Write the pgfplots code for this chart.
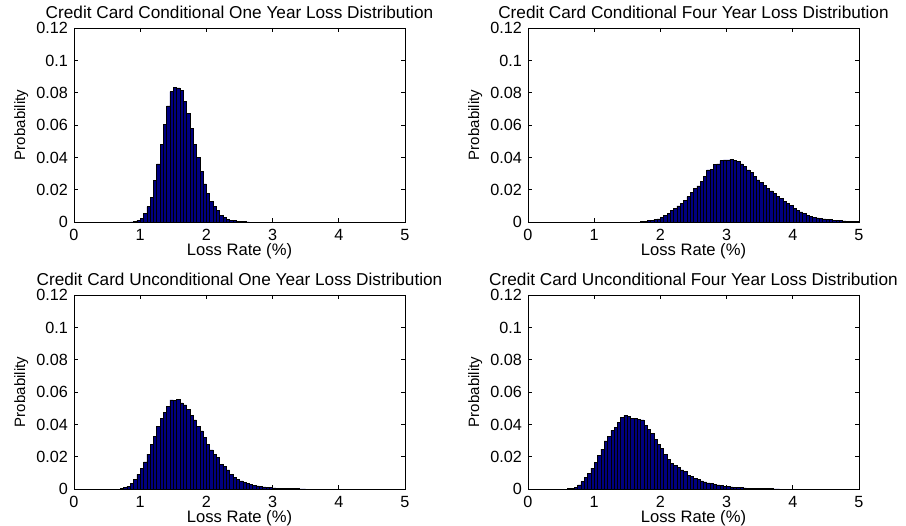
\documentclass[border=0pt]{standalone}
\usepackage{pgfplots}
\pgfplotsset{compat=1.18}
\usepackage{fontspec}
\setmainfont{Liberation Sans}
\definecolor{matnavy}{RGB}{0,0,128}
\pgfplotsset{
  histax/.style={
    scale only axis, width=331pt, height=194pt,
    xmin=0, xmax=5, ymin=0, ymax=0.12,
    xtick={0,1,2,3,4,5}, xticklabels={0,1,2,3,4,5},
    ytick={0,0.02,0.04,0.06,0.08,0.1,0.12},
    yticklabels={0,0.02,0.04,0.06,0.08,0.1,0.12},
    tick align=inside, major tick length=4pt,
    axis line style={line width=0.8pt, black},
    tick style={line width=0.8pt, black},
    tick label style={font=\fontsize{16.2}{19}\selectfont},
    xticklabel style={anchor=north, inner sep=0pt, yshift=-7pt},
    yticklabel style={anchor=east, inner sep=0pt, xshift=-6pt, text height=11.6pt, text depth=0pt},
    title style={at={(axis description cs:0.5,1.016)}, anchor=base, inner sep=0pt, text depth=0pt, font=\fontsize{17.2}{20}\selectfont},
    xlabel style={at={(axis description cs:0.5,-0.172)}, anchor=base, inner sep=0pt, text height=11pt, text depth=3pt, font=\fontsize{16.6}{20}\selectfont},
    ylabel style={at={(axis description cs:-0.148,0.5)}, anchor=base, inner sep=0pt, font=\fontsize{15}{18}\selectfont},
    xlabel={Loss Rate (\%)}, ylabel={Probability},
  },
  histbar/.style={ybar interval, fill=matnavy, draw=black, line width=0.5pt},
}
\begin{document}
\begin{tikzpicture}
\useasboundingbox (0,0) rectangle (906pt,526pt);
% Top left
\begin{axis}[histax, at={(74pt,304pt)}, anchor=south west,
  title={Credit Card Conditional One Year Loss Distribution}]
\addplot[histbar] table {
x y
0.85 0.0001
0.90 0.0004
0.95 0.0010
1.00 0.0023
1.05 0.0054
1.10 0.0095
1.15 0.0153
1.20 0.0256
1.25 0.0359
1.30 0.0480
1.35 0.0606
1.40 0.0718
1.45 0.0806
1.50 0.0833
1.55 0.0830
1.60 0.0812
1.65 0.0744
1.70 0.0672
1.75 0.0580
1.80 0.0480
1.85 0.0400
1.90 0.0311
1.95 0.0235
2.00 0.0177
2.05 0.0126
2.10 0.0095
2.15 0.0070
2.20 0.0043
2.25 0.0030
2.30 0.0018
2.35 0.0012
2.40 0.0008
2.45 0.0005
2.50 0.0003
2.55 0.0002
2.60 0.0001
2.65 0.0001
};
\end{axis}
% Top right
\begin{axis}[histax, at={(528pt,304pt)}, anchor=south west,
  title={Credit Card Conditional Four Year Loss Distribution}]
\addplot[histbar] table {
x y
1.70 0.0003
1.75 0.0006
1.80 0.0009
1.85 0.0012
1.90 0.0016
1.95 0.0020
2.00 0.0029
2.05 0.0041
2.10 0.0054
2.15 0.0070
2.20 0.0085
2.25 0.0099
2.30 0.0115
2.35 0.0136
2.40 0.0157
2.45 0.0181
2.50 0.0208
2.55 0.0223
2.60 0.0249
2.65 0.0280
2.70 0.0322
2.75 0.0326
2.80 0.0357
2.85 0.0359
2.90 0.0380
2.95 0.0384
3.00 0.0384
3.05 0.0388
3.10 0.0380
3.15 0.0375
3.20 0.0359
3.25 0.0342
3.30 0.0322
3.35 0.0305
3.40 0.0280
3.45 0.0260
3.50 0.0243
3.55 0.0227
3.60 0.0208
3.65 0.0192
3.70 0.0177
3.75 0.0157
3.80 0.0144
3.85 0.0128
3.90 0.0115
3.95 0.0103
4.00 0.0083
4.05 0.0074
4.10 0.0062
4.15 0.0052
4.20 0.0043
4.25 0.0037
4.30 0.0029
4.35 0.0025
4.40 0.0022
4.45 0.0020
4.50 0.0017
4.55 0.0015
4.60 0.0012
4.65 0.0010
4.70 0.0008
4.75 0.0007
4.80 0.0005
4.85 0.0004
4.90 0.0003
4.95 0.0002
5.00 0.0002
};
\end{axis}
% Bottom left
\begin{axis}[histax, at={(74pt,37pt)}, anchor=south west,
  title={Credit Card Unconditional One Year Loss Distribution}]
\addplot[histbar] table {
x y
0.70 0.0003
0.75 0.0008
0.80 0.0018
0.85 0.0035
0.90 0.0060
0.95 0.0090
1.00 0.0127
1.05 0.0168
1.10 0.0215
1.15 0.0277
1.20 0.0324
1.25 0.0386
1.30 0.0435
1.35 0.0472
1.40 0.0509
1.45 0.0552
1.50 0.0548
1.55 0.0556
1.60 0.0533
1.65 0.0521
1.70 0.0492
1.75 0.0455
1.80 0.0427
1.85 0.0386
1.90 0.0359
1.95 0.0320
2.00 0.0277
2.05 0.0242
2.10 0.0215
2.15 0.0195
2.20 0.0154
2.25 0.0140
2.30 0.0119
2.35 0.0092
2.40 0.0072
2.45 0.0060
2.50 0.0050
2.55 0.0042
2.60 0.0035
2.65 0.0029
2.70 0.0024
2.75 0.0020
2.80 0.0016
2.85 0.0013
2.90 0.0011
2.95 0.0009
3.00 0.0007
3.05 0.0006
3.10 0.0005
3.15 0.0004
3.20 0.0003
3.25 0.0003
3.30 0.0002
3.35 0.0002
3.40 0.0001
3.45 0.0001
3.50 0.0001
};
\end{axis}
% Bottom right
\begin{axis}[histax, at={(528pt,37pt)}, anchor=south west,
  title={Credit Card Unconditional Four Year Loss Distribution}]
\addplot[histbar] table {
x y
0.60 0.0002
0.65 0.0005
0.70 0.0012
0.75 0.0025
0.80 0.0045
0.85 0.0072
0.90 0.0098
0.95 0.0129
1.00 0.0164
1.05 0.0209
1.10 0.0246
1.15 0.0297
1.20 0.0324
1.25 0.0363
1.30 0.0383
1.35 0.0414
1.40 0.0443
1.45 0.0455
1.50 0.0451
1.55 0.0437
1.60 0.0435
1.65 0.0431
1.70 0.0427
1.75 0.0394
1.80 0.0369
1.85 0.0345
1.90 0.0308
1.95 0.0277
2.00 0.0252
2.05 0.0215
2.10 0.0185
2.15 0.0160
2.20 0.0144
2.25 0.0133
2.30 0.0119
2.35 0.0107
2.40 0.0086
2.45 0.0078
2.50 0.0066
2.55 0.0058
2.60 0.0050
2.65 0.0044
2.70 0.0038
2.75 0.0033
2.80 0.0029
2.85 0.0025
2.90 0.0021
2.95 0.0018
3.00 0.0015
3.05 0.0013
3.10 0.0011
3.15 0.0009
3.20 0.0008
3.25 0.0007
3.30 0.0006
3.35 0.0005
3.40 0.0004
3.45 0.0004
3.50 0.0003
3.55 0.0003
3.60 0.0002
3.65 0.0002
3.70 0.0001
3.75 0.0001
3.80 0.0001
};
\end{axis}
\end{tikzpicture}
\end{document}
